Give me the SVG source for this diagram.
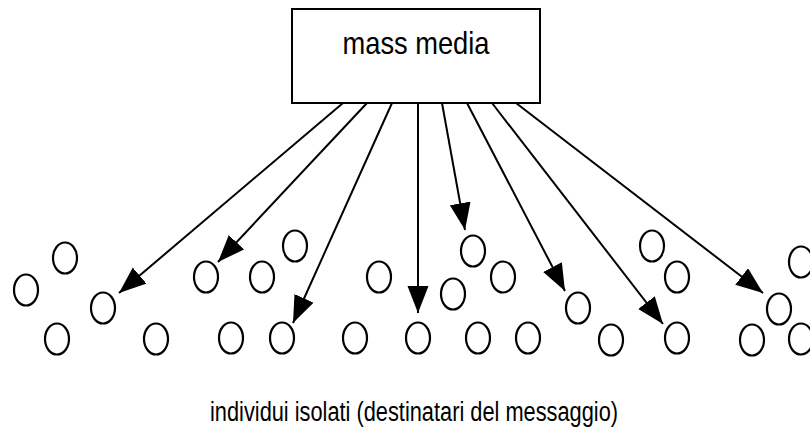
<svg xmlns="http://www.w3.org/2000/svg" width="810" height="430" viewBox="0 0 810 430">
  <style>
    .box { fill: #ffffff; stroke: #000000; stroke-width: 2; }
    .label { font-family: "Liberation Sans", Arial, sans-serif; fill: #000000; text-anchor: middle; }
    .person { fill: none; stroke: #000000; stroke-width: 2.2; }
    .ray { stroke: #000000; stroke-width: 2; fill: none; marker-end: url(#head); }
  </style>
  <defs>
    <marker id="head" markerUnits="userSpaceOnUse" markerWidth="28" markerHeight="22" refX="27" refY="10.5" orient="auto">
      <path d="M0,0 L27,10.5 L0,21 z" fill="#000000"/>
    </marker>
  </defs>
  <rect width="810" height="430" fill="#ffffff"/>

  <!-- source node -->
  <g id="mass-media">
    <rect class="box" x="292" y="9" width="248" height="94"/>
    <text class="label" x="416" y="54" font-size="32" textLength="147" lengthAdjust="spacingAndGlyphs">mass media</text>
  </g>

  <!-- broadcast rays -->
  <g id="connectors">
    <line class="ray" x1="343" y1="103" x2="119" y2="293"/>
    <line class="ray" x1="367" y1="103" x2="218" y2="262"/>
    <line class="ray" x1="392" y1="103" x2="293" y2="323"/>
    <line class="ray" x1="418" y1="103" x2="418" y2="313"/>
    <line class="ray" x1="442" y1="103" x2="465" y2="230"/>
    <line class="ray" x1="467" y1="103" x2="565" y2="291"/>
    <line class="ray" x1="492" y1="103" x2="663" y2="324"/>
    <line class="ray" x1="516" y1="103" x2="763" y2="293"/>
  </g>

  <!-- isolated individuals -->
  <g id="individuals">
    <ellipse class="person" cx="26" cy="290" rx="12" ry="15.5"/>
    <ellipse class="person" cx="65" cy="258" rx="12" ry="15.5"/>
    <ellipse class="person" cx="103" cy="308" rx="12" ry="15.5"/>
    <ellipse class="person" cx="57" cy="339" rx="12" ry="15.5"/>
    <ellipse class="person" cx="156" cy="339" rx="12" ry="15.5"/>
    <ellipse class="person" cx="206" cy="277" rx="12" ry="15.5"/>
    <ellipse class="person" cx="262" cy="277" rx="12" ry="15.5"/>
    <ellipse class="person" cx="231" cy="338" rx="12" ry="15.5"/>
    <ellipse class="person" cx="282" cy="338" rx="12" ry="15.5"/>
    <ellipse class="person" cx="295" cy="246" rx="12" ry="15.5"/>
    <ellipse class="person" cx="379" cy="277" rx="12" ry="15.5"/>
    <ellipse class="person" cx="355" cy="338" rx="12" ry="15.5"/>
    <ellipse class="person" cx="418" cy="338" rx="12" ry="15.5"/>
    <ellipse class="person" cx="473" cy="251" rx="12" ry="15.5"/>
    <ellipse class="person" cx="503" cy="277" rx="12" ry="15.5"/>
    <ellipse class="person" cx="453" cy="294" rx="12" ry="15.5"/>
    <ellipse class="person" cx="478" cy="338" rx="12" ry="15.5"/>
    <ellipse class="person" cx="528" cy="338" rx="12" ry="15.5"/>
    <ellipse class="person" cx="578" cy="308" rx="12" ry="15.5"/>
    <ellipse class="person" cx="611" cy="340" rx="12" ry="15.5"/>
    <ellipse class="person" cx="652" cy="246" rx="12" ry="15.5"/>
    <ellipse class="person" cx="677" cy="277" rx="12" ry="15.5"/>
    <ellipse class="person" cx="677" cy="338" rx="12" ry="15.5"/>
    <ellipse class="person" cx="779" cy="309" rx="12" ry="15.5"/>
    <ellipse class="person" cx="752" cy="340" rx="12" ry="15.5"/>
    <ellipse class="person" cx="801" cy="262" rx="12" ry="15.5"/>
    <ellipse class="person" cx="801" cy="339" rx="12" ry="15.5"/>
  </g>

  <!-- caption -->
  <g id="caption">
    <text class="label" x="414" y="421" font-size="27" textLength="408" lengthAdjust="spacingAndGlyphs">individui isolati (destinatari del messaggio)</text>
  </g>
</svg>
